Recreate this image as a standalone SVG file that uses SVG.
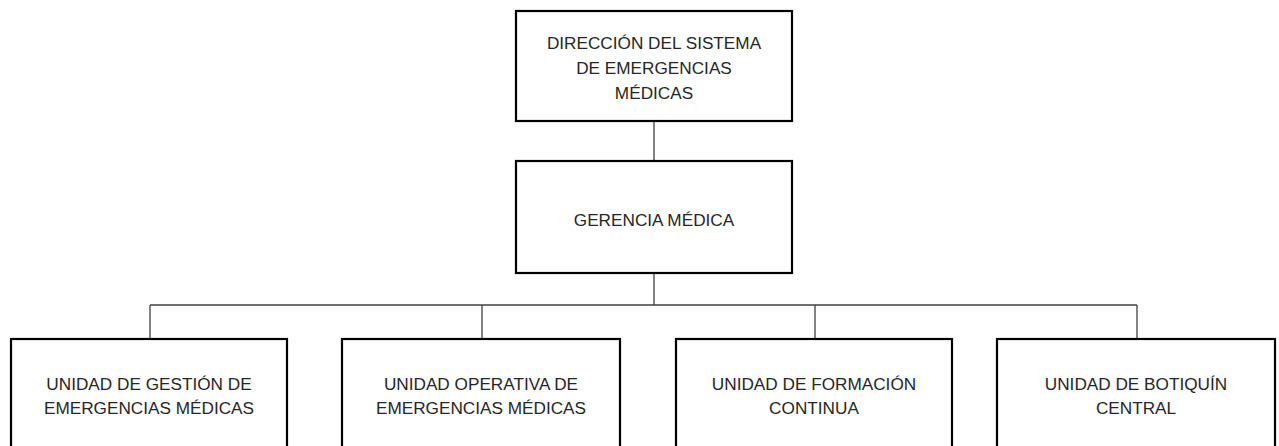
<svg xmlns="http://www.w3.org/2000/svg" width="1279" height="446" viewBox="0 0 1279 446">
<style>
.box{fill:#fff;stroke:#000;stroke-width:2.2}
.lbl{font-family:"Liberation Sans",Arial,sans-serif;font-size:17.2px;fill:#262626;text-anchor:middle}
.con{stroke:#404040;stroke-width:1.3;fill:none}
</style>
<rect width="1279" height="446" fill="#fff"/>
<g id="connectors">
<line class="con" x1="654" y1="121" x2="654" y2="161"/>
<line class="con" x1="654" y1="273" x2="654" y2="305"/>
<line class="con" x1="150" y1="305" x2="1137" y2="305"/>
<line class="con" x1="150" y1="305" x2="150" y2="339"/>
<line class="con" x1="482" y1="305" x2="482" y2="339"/>
<line class="con" x1="815" y1="305" x2="815" y2="339"/>
<line class="con" x1="1137" y1="305" x2="1137" y2="339"/>
</g>
<g id="direccion">
<rect class="box" x="516" y="11" width="276" height="110"/>
<text class="lbl" x="654" y="49">DIRECCIÓN DEL SISTEMA</text>
<text class="lbl" x="654" y="74">DE EMERGENCIAS</text>
<text class="lbl" x="654" y="99">MÉDICAS</text>
</g>
<g id="gerencia">
<rect class="box" x="516" y="161" width="276" height="112"/>
<text class="lbl" x="654" y="226">GERENCIA MÉDICA</text>
</g>
<g id="gestion">
<rect class="box" x="11" y="339" width="276" height="130"/>
<text class="lbl" x="149" y="390">UNIDAD DE GESTIÓN DE</text>
<text class="lbl" x="149" y="414">EMERGENCIAS MÉDICAS</text>
</g>
<g id="operativa">
<rect class="box" x="342" y="339" width="278" height="130"/>
<text class="lbl" x="481" y="390">UNIDAD OPERATIVA DE</text>
<text class="lbl" x="481" y="414">EMERGENCIAS MÉDICAS</text>
</g>
<g id="formacion">
<rect class="box" x="676" y="339" width="276" height="130"/>
<text class="lbl" x="814" y="390">UNIDAD DE FORMACIÓN</text>
<text class="lbl" x="814" y="414">CONTINUA</text>
</g>
<g id="botiquin">
<rect class="box" x="997" y="339" width="278" height="130"/>
<text class="lbl" x="1136" y="390">UNIDAD DE BOTIQUÍN</text>
<text class="lbl" x="1136" y="414">CENTRAL</text>
</g>
</svg>
